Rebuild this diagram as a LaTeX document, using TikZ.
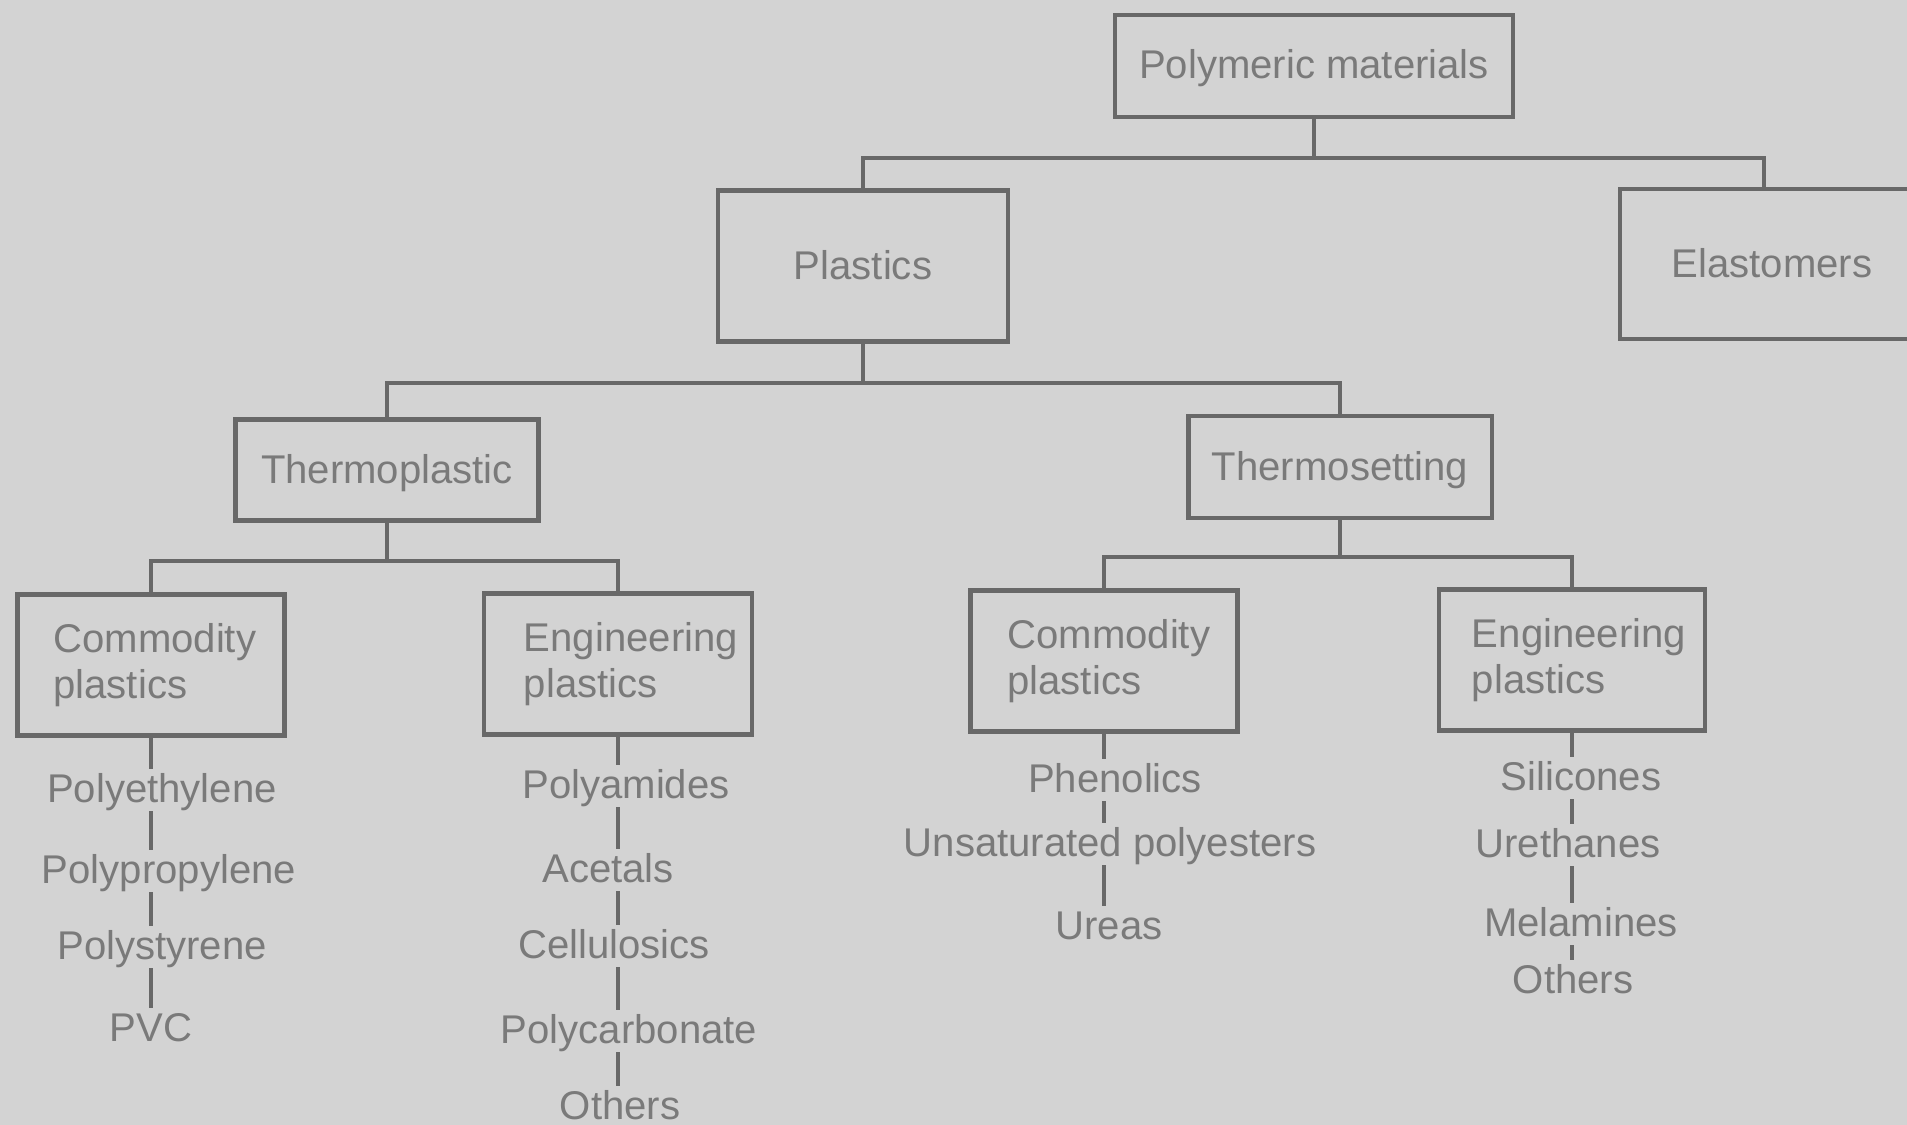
\documentclass[tikz,border=0pt]{standalone}
\usepackage{fontspec}
\setmainfont{Liberation Sans}
\hyphenpenalty=10000
\definecolor{paper}{HTML}{D3D3D3}
\definecolor{ink}{HTML}{7A7A7A}
\definecolor{rule}{HTML}{686868}

\tikzset{
  box/.style={draw=rule, line width=1.2pt, text=ink, inner sep=0pt, text height=0.35cm, text depth=0.09cm},
  group/.style={draw=rule, line width=1.2pt, text=ink, align=left, minimum height=1.41cm, inner ysep=0pt},
  item/.style={text=ink, inner sep=0pt, text height=0.33cm, text depth=0.08cm},
  link/.style={draw=rule, line width=0.9pt},
}

\begin{document}
\begin{tikzpicture}[x=0.01cm, y=-0.01cm, font=\fontsize{11.4}{13.1}\selectfont]
   \fill[paper] (0,0) rectangle (1907,1125);
   \useasboundingbox (0,0) rectangle (1907,1125);

   \node[box, minimum width=3.98cm, minimum height=1.02cm] (pm) at (1314,66) {Polymeric materials};
   \node[box, minimum width=2.90cm, minimum height=1.51cm] (pl) at (863,266) {Plastics};
   \node[box, minimum width=3.04cm, minimum height=1.50cm] (el) at (1772,264) {Elastomers};

   \node[box, minimum width=3.03cm, minimum height=1.01cm] (tp) at (387,470) {Thermoplastic};
   \node[box, minimum width=3.03cm, minimum height=1.02cm] (ts) at (1340,467) {Thermosetting};

   \node[group, inner xsep=0.36cm, text width=1.95cm] (tpc) at (151,665) {Commodity\\plastics};
   \node[group, inner xsep=0.40cm, text width=1.88cm] (tpe) at (618,664) {Engineering\\plastics};
   \node[group, inner xsep=0.37cm, text width=1.93cm] (tsc) at (1104,661) {Commodity\\plastics};
   \node[group, inner xsep=0.33cm, text width=2.00cm] (tse) at (1572,660) {Engineering\\plastics};

   \node[item] (pe) at (162,790) {Polyethylene};
   \node[item] (pp) at (169,871) {Polypropylene};
   \node[item] (ps) at (162,947) {Polystyrene};
   \node[item] (pvc) at (151,1029) {PVC};

   \node[item] (pa) at (626,786) {Polyamides};
   \node[item] (ac) at (608,870) {Acetals};
   \node[item] (ce) at (614,946) {Cellulosics};
   \node[item] (pc) at (629,1031) {Polycarbonate};
   \node[item] (oa) at (620,1107) {Others};

   \node[item] (ph) at (1115,780) {Phenolics};
   \node[item] (up) at (1110,844) {Unsaturated polyesters};
   \node[item] (ur) at (1109,927) {Ureas};

   \node[item] (si) at (1581,778) {Silicones};
   \node[item] (uh) at (1568,845) {Urethanes};
   \node[item] (me) at (1581,924) {Melamines};
   \node[item] (ob) at (1573,981) {Others};

   % branching bars
   \coordinate (j1) at (0,158);
   \coordinate (j2) at (0,383);
   \coordinate (j3) at (0,561);
   \coordinate (j4) at (0,557);
   \coordinate (eln) at ([xshift=-0.08cm]el.north);

   \draw[link] (pm.south) -- (pm.south |- j1);
   \draw[link] (pl.north) |- (eln |- j1) -- (eln);
   \draw[link] (pl.south) -- (pl.south |- j2);
   \draw[link] (tp.north) |- (ts.north |- j2) -- (ts.north);
   \draw[link] (tp.south) -- (tp.south |- j3);
   \draw[link] (tpc.north) |- (tpe.north |- j3) -- (tpe.north);
   \draw[link] (ts.south) -- (ts.south |- j4);
   \draw[link] (tsc.north) |- (tse.north |- j4) -- (tse.north);

   % lists under each group
   \draw[link] (tpc.south) -- (tpc.south |- pe.north);
   \foreach \a/\b in {pe/pp, pp/ps, ps/pvc}
      \draw[link] (tpc.south |- \a.south) -- (tpc.south |- \b.north);
   \draw[link] (tpe.south) -- (tpe.south |- pa.north);
   \foreach \a/\b in {pa/ac, ac/ce, ce/pc, pc/oa}
      \draw[link] (tpe.south |- \a.south) -- (tpe.south |- \b.north);
   \draw[link] (tsc.south) -- (tsc.south |- ph.north);
   \foreach \a/\b in {ph/up, up/ur}
      \draw[link] (tsc.south |- \a.south) -- (tsc.south |- \b.north);
   \draw[link] (tse.south) -- (tse.south |- si.north);
   \foreach \a/\b in {si/uh, uh/me, me/ob}
      \draw[link] (tse.south |- \a.south) -- (tse.south |- \b.north);
\end{tikzpicture}
\end{document}
